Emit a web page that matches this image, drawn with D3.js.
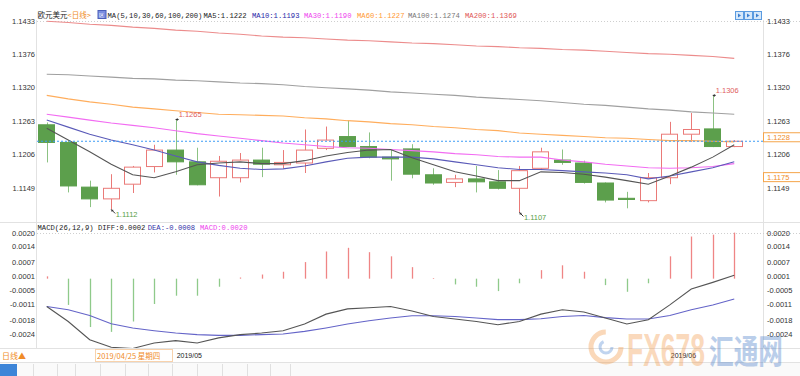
<!DOCTYPE html>
<html>
<head>
<meta charset="utf-8">
<script src="https://cdn.jsdelivr.net/npm/d3@7"></script>
<style>
  body { margin: 0; background: #fff; }
  svg { display: block; }
  text { font-family: "Liberation Sans", Arial, sans-serif; }
  .mono { font-family: "Liberation Mono", "DejaVu Sans Mono", monospace; font-size: 7.2px; }
  .cjk { font-family: "Noto Sans CJK SC", sans-serif; }
</style>
</head>
<body>
<svg id="chart" width="800" height="376"></svg>
<script>
// 交易日（2019/04/23 ~ 2019/06/06）
const dates = ["04/23","04/24","04/25","04/26","04/29","04/30","05/01","05/02","05/03","05/06","05/07",
  "05/08","05/09","05/10","05/13","05/14","05/15","05/16","05/17","05/20","05/21","05/22",
  "05/23","05/24","05/27","05/28","05/29","05/30","05/31","06/03","06/04","06/05","06/06"];

const open  = [1.1256,1.1226,1.1150,1.1130,1.1155,1.1185,1.1213,1.1193,1.1166,1.1166,1.1196,
  1.1188,1.1191,1.1216,1.1236,1.1219,1.1201,1.1215,1.1171,1.1158,1.1164,1.1159,
  1.1148,1.1182,1.1196,1.1191,1.1157,1.1131,1.1127,1.1166,1.1240,1.1249,1.1219];
const high  = [1.1260,1.1229,1.1161,1.1172,1.1186,1.1222,1.1265,1.1217,1.1203,1.1208,1.1217,
  1.1213,1.1248,1.1253,1.1263,1.1243,1.1214,1.1223,1.1182,1.1171,1.1186,1.1179,
  1.1186,1.1217,1.1214,1.1195,1.1158,1.1142,1.1174,1.1261,1.1276,1.1306,1.1230];
const low   = [1.1192,1.1141,1.1116,1.1112,1.1140,1.1175,1.1171,1.1153,1.1134,1.1158,1.1167,
  1.1182,1.1174,1.1213,1.1218,1.1199,1.1161,1.1165,1.1154,1.1150,1.1141,1.1146,
  1.1107,1.1179,1.1188,1.1156,1.1124,1.1114,1.1124,1.1155,1.1227,1.1218,1.1218];
const close = [1.1226,1.1152,1.1130,1.1148,1.1184,1.1213,1.1193,1.1154,1.1194,1.1196,1.1189,
  1.1192,1.1213,1.1230,1.1219,1.1201,1.1198,1.1172,1.1157,1.1164,1.1159,1.1148,
  1.1178,1.1210,1.1192,1.1158,1.1128,1.1129,1.1166,1.1240,1.1248,1.1219,1.1228];

// 均线
const ma5   = [1.1250,1.1230,1.1210,1.1189,1.1171,1.1166,1.1176,1.1188,1.1191,1.1193,1.1190,
  1.1190,1.1195,1.1203,1.1209,1.1213,1.1214,1.1200,1.1188,1.1176,1.1169,1.1161,
  1.1161,1.1176,1.1175,1.1172,1.1167,1.1161,1.1155,1.1169,1.1184,1.1201,1.1222];
const ma10  = [1.1264,1.1252,1.1240,1.1230,1.1222,1.1213,1.1203,1.1193,1.1187,1.1182,1.1180,
  1.1181,1.1186,1.1193,1.1199,1.1201,1.1201,1.1201,1.1198,1.1193,1.1188,1.1183,
  1.1180,1.1180,1.1178,1.1176,1.1174,1.1171,1.1164,1.1169,1.1176,1.1183,1.1193];
const ma30  = [1.1274,1.1269,1.1264,1.1259,1.1255,1.1251,1.1246,1.1241,1.1237,1.1233,1.1229,
  1.1225,1.1222,1.1219,1.1217,1.1216,1.1214,1.1212,1.1210,1.1207,1.1205,1.1202,
  1.1201,1.1201,1.1196,1.1193,1.1189,1.1186,1.1183,1.1182,1.1183,1.1185,1.1190];
const ma60  = [1.1306,1.1300,1.1295,1.1291,1.1286,1.1283,1.1280,1.1277,1.1274,1.1273,1.1272,
  1.1271,1.1268,1.1266,1.1263,1.1261,1.1258,1.1256,1.1253,1.1251,1.1248,1.1246,
  1.1242,1.1240,1.1238,1.1236,1.1234,1.1233,1.1231,1.1229,1.1229,1.1228,1.1227];
const ma100 = [1.1342,1.1341,1.1339,1.1337,1.1335,1.1334,1.1332,1.1331,1.1329,1.1327,1.1326,
  1.1324,1.1321,1.1319,1.1317,1.1315,1.1312,1.1310,1.1308,1.1306,1.1303,1.1301,
  1.1299,1.1297,1.1294,1.1291,1.1289,1.1286,1.1283,1.1281,1.1278,1.1276,1.1274];
const ma200 = [1.1432,1.1430,1.1427,1.1425,1.1422,1.1420,1.1417,1.1415,1.1412,1.1410,1.1407,
  1.1405,1.1404,1.1402,1.1400,1.1399,1.1397,1.1395,1.1394,1.1392,1.1390,1.1389,
  1.1387,1.1386,1.1384,1.1383,1.1381,1.1379,1.1377,1.1376,1.1374,1.1372,1.1369];

// MACD(26,12,9)
const diff = [-0.00121,-0.00186,-0.00265,-0.00298,-0.00303,-0.00279,-0.00269,-0.00279,-0.00257,-0.00243,-0.00236,
  -0.00226,-0.00197,-0.00154,-0.00131,-0.00126,-0.00121,-0.00140,-0.00164,-0.00175,-0.00186,-0.00200,
  -0.00186,-0.00154,-0.00135,-0.00145,-0.00171,-0.00197,-0.00178,-0.00114,-0.00045,-0.00016,0.00015];
const dea  = [-0.00121,-0.00135,-0.00160,-0.00196,-0.00214,-0.00226,-0.00236,-0.00243,-0.00246,-0.00246,-0.00243,
  -0.00240,-0.00229,-0.00214,-0.00197,-0.00183,-0.00171,-0.00161,-0.00161,-0.00164,-0.00171,-0.00178,
  -0.00178,-0.00174,-0.00164,-0.00160,-0.00169,-0.00175,-0.00175,-0.00160,-0.00135,-0.00114,-0.00088];
const macdBar = [0.0001,-0.00114,-0.0021,-0.00231,-0.00186,-0.0011,-0.00074,-0.00074,-0.00035,0.00005,0.00018,
  0.0003,0.00072,0.00118,0.00134,0.00115,0.00097,0.0005,0.00003,-0.00025,-0.00035,-0.00054,
  -0.0002,0.00037,0.00058,0.0003,-0.00028,-0.00057,-0.0002,0.00097,0.00183,0.00191,0.0020];

const priceTicks = ["1.1433","1.1376","1.1320","1.1263","1.1206","1.1149"];
const macdTicks = ["0.0020","0.0014","0.0007","0.0001","-0.0005","-0.0011","-0.0018","-0.0024"];
const monthLabels = [{i: 6, text: "2019/05"}, {i: 29, text: "2019/06"}];

const svg = d3.select("#chart");
const L = 37, R = 763;
const RED = "#ea7a78", GREEN = "#5c9f4c", ORANGE = "#f08c28";

const x = d3.scaleBand().domain(d3.range(dates.length)).range([36, 745])
  .paddingInner(0.2).paddingOuter(0.1);
const cx = i => x(i) + x.bandwidth() / 2;

const yMain = d3.scaleLinear().domain([1.10907, 1.1433]).range([222, 20.7]);
const yMacd = d3.scaleLinear().domain([-0.00301, 0.00246]).range([348, 222]);

// 边框和分隔线
const frame = svg.append("g");
[222.5, 348.5, 362.5].forEach(yy => {
  frame.append("line").attr("x1", 0).attr("x2", 800).attr("y1", yy).attr("y2", yy)
    .attr("stroke", "#e2e2e2");
});
[L - 0.5, R + 0.5].forEach(xx => {
  frame.append("line").attr("x1", xx).attr("x2", xx).attr("y1", 20).attr("y2", 348)
    .attr("stroke", "#e2e2e2");
});
[yMain(1.1433), yMacd(0.0020)].forEach(yy => {
  frame.append("line").attr("x1", L).attr("x2", 800).attr("y1", Math.round(yy) + 0.5)
    .attr("y2", Math.round(yy) + 0.5).attr("stroke", "#cfcfcf").attr("stroke-dasharray", "1,2");
});

// 坐标轴
function styleAxis(g) {
  g.select(".domain").remove();
  g.selectAll("text").attr("font-size", "7.5px").attr("fill", "#333")
    .attr("font-family", "Liberation Sans, Arial, sans-serif");
}
svg.append("g").attr("transform", `translate(${L},0)`)
  .call(d3.axisLeft(yMain).tickValues(priceTicks.map(Number)).tickSize(0).tickPadding(2)
    .tickFormat((d, i) => priceTicks[i])).call(styleAxis);
svg.append("g").attr("transform", `translate(${R},0)`)
  .call(d3.axisRight(yMain).tickValues(priceTicks.map(Number)).tickSize(0).tickPadding(4)
    .tickFormat((d, i) => priceTicks[i])).call(styleAxis);
svg.append("g").attr("transform", `translate(${L},0)`)
  .call(d3.axisLeft(yMacd).tickValues(macdTicks.map(Number)).tickSize(0).tickPadding(2)
    .tickFormat((d, i) => macdTicks[i])).call(styleAxis);
svg.append("g").attr("transform", `translate(${R},0)`)
  .call(d3.axisRight(yMacd).tickValues(macdTicks.map(Number)).tickSize(0).tickPadding(4)
    .tickFormat((d, i) => macdTicks[i])).call(styleAxis);

// K线
const kg = svg.append("g");
dates.forEach((d, i) => {
  const up = close[i] >= open[i];
  const col = up ? RED : GREEN;
  const xc = Math.round(cx(i)) + 0.5;
  kg.append("line").attr("x1", xc).attr("x2", xc)
    .attr("y1", yMain(high[i])).attr("y2", yMain(low[i]))
    .attr("stroke", up ? RED : "#8cc283").attr("stroke-width", 1);
  const top = yMain(Math.max(open[i], close[i]));
  const h = Math.max(1, Math.abs(yMain(open[i]) - yMain(close[i])));
  kg.append("rect").attr("x", Math.round(x(i)) + 0.5).attr("y", top)
    .attr("width", Math.round(x.bandwidth()) - 1).attr("height", h)
    .attr("fill", up ? "#fff" : GREEN).attr("stroke", col).attr("stroke-width", 1);
});

// 均线
const maList = [
  {v: ma200, c: "#ec8c8c"}, {v: ma100, c: "#a0a0a0"}, {v: ma60, c: "#ffad5c"},
  {v: ma30, c: "#f26cf2"}, {v: ma10, c: "#5a5ab8"}, {v: ma5, c: "#555"}
];
const lineMain = d3.line().x((d, i) => cx(i)).y(d => yMain(d));
maList.forEach(m => {
  svg.append("path").attr("d", lineMain(m.v)).attr("fill", "none")
    .attr("stroke", m.c).attr("stroke-width", 1.1);
});

// 现价虚线
const last = close[close.length - 1];
svg.append("line").attr("x1", L).attr("x2", R)
  .attr("y1", yMain(last)).attr("y2", yMain(last))
  .attr("stroke", "#3d9cf5").attr("stroke-dasharray", "2,2");

// 最高最低标注
function markHigh(i, col) {
  const xc = cx(i), yy = yMain(high[i]);
  svg.append("line").attr("x1", xc).attr("x2", xc + 3).attr("y1", yy).attr("y2", yy)
    .attr("stroke", "#333");
  svg.append("path").attr("d", `M${xc},${yy}l2,-1.5l0,3z`).attr("fill", "#333");
  svg.append("text").attr("x", xc + 3).attr("y", yy - 2).attr("font-size", "7.5px")
    .attr("fill", col).text(high[i].toFixed(4));
}
function markLow(i, col) {
  const xc = cx(i), yy = yMain(low[i]);
  svg.append("line").attr("x1", xc).attr("x2", xc + 4).attr("y1", yy).attr("y2", yy + 4)
    .attr("stroke", "#333");
  svg.append("path").attr("d", `M${xc},${yy}l0.5,2.5l2,-2z`).attr("fill", "#333");
  svg.append("text").attr("x", xc + 4.5).attr("y", yy + 8).attr("font-size", "7.5px")
    .attr("fill", col).text(low[i].toFixed(4));
}
markHigh(6, "#e06060");
markHigh(31, "#e06060");
markLow(3, "#58a048");
markLow(22, "#58a048");

// 右侧价格标签
function priceTag(v, txt) {
  const yy = yMain(v);
  svg.append("rect").attr("x", R + 0.5).attr("y", yy - 4.5).attr("width", 37).attr("height", 9)
    .attr("fill", "#fff").attr("stroke", "#f5a54a");
  svg.append("text").attr("x", R + 4).attr("y", yy + 2.7).attr("font-size", "7.5px")
    .attr("fill", ORANGE).text(txt);
}
priceTag(last + 0.00068, last.toFixed(4));
svg.select("g").raise;
priceTag(1.1175 - 0.0008, "1.1175");

// MACD 柱
const mg = svg.append("g");
macdBar.forEach((v, i) => {
  mg.append("line").attr("x1", Math.round(cx(i)) + 0.5).attr("x2", Math.round(cx(i)) + 0.5)
    .attr("y1", yMacd(0)).attr("y2", yMacd(v))
    .attr("stroke", v >= 0 ? "#ef8585" : "#8fca8a").attr("stroke-width", 1.3);
});
svg.append("defs").append("clipPath").attr("id", "macdClip")
  .append("rect").attr("x", L).attr("y", 223).attr("width", R - L).attr("height", 125);
const lineMacd = d3.line().x((d, i) => cx(i)).y(d => yMacd(d));
svg.append("path").attr("d", lineMacd(dea)).attr("fill", "none").attr("clip-path", "url(#macdClip)")
  .attr("stroke", "#6464c8").attr("stroke-width", 1.1);
svg.append("path").attr("d", lineMacd(diff)).attr("fill", "none").attr("clip-path", "url(#macdClip)")
  .attr("stroke", "#555").attr("stroke-width", 1.1);

// 图例
const lg = svg.append("g");
lg.append("text").attr("class", "cjk").attr("x", 37.5).attr("y", 18).attr("font-size", "7.5px")
  .attr("fill", "#222").text("欧元美元");
lg.append("text").attr("class", "cjk").attr("x", 67.5).attr("y", 18).attr("font-size", "7.5px")
  .attr("fill", ORANGE).text("<日线>");
lg.append("rect").attr("x", 98).attr("y", 10.5).attr("width", 8).attr("height", 8)
  .attr("fill", "#7b8ee0").attr("stroke", "#4c5fb8");
lg.append("text").attr("x", 99).attr("y", 17).attr("font-size", "5px").attr("fill", "#fff").text("区");
const legendItems = [
  {x: 107.5, t: "MA(5,10,30,60,100,200)", c: "#222"},
  {x: 203.5, t: "MA5:" + ma5[32].toFixed(4), c: "#222"},
  {x: 252, t: "MA10:" + ma10[32].toFixed(4), c: "#2828a8"},
  {x: 304, t: "MA30:" + ma30[32].toFixed(4), c: "#ee44ee"},
  {x: 357, t: "MA60:" + ma60[32].toFixed(4), c: "#ff9933"},
  {x: 408, t: "MA100:" + ma100[32].toFixed(4), c: "#777"},
  {x: 465, t: "MA200:" + ma200[32].toFixed(4), c: "#e05555"}
];
legendItems.forEach(d => {
  lg.append("text").attr("class", "mono").attr("x", d.x).attr("y", 18).attr("fill", d.c).text(d.t);
});
const macdLegend = [
  {x: 37.5, t: "MACD(26,12,9) DIFF:0.0002", c: "#222"},
  {x: 147.7, t: "DEA:-0.0008", c: "#3434a8"},
  {x: 200, t: "MACD:0.0020", c: "#ee44ee"}
];
macdLegend.forEach(d => {
  lg.append("text").attr("class", "mono").attr("x", d.x).attr("y", 229.5).attr("fill", d.c).text(d.t);
});

// 右上角按钮
[735, 744, 753].forEach(bx => {
  lg.append("rect").attr("x", bx + 0.5).attr("y", 11.5).attr("width", 8).attr("height", 8)
    .attr("fill", "#d6e8fa").attr("stroke", "#5b9be0");
  lg.append("path").attr("d", `M${bx + 3},${13.5}l3,2l-3,2z`).attr("fill", "#3c7fd0");
});

// 日期轴
monthLabels.forEach(m => {
  svg.append("text").attr("x", cx(m.i) + 1).attr("y", 358).attr("font-size", "7px")
    .attr("fill", "#222").text(m.text);
});
svg.append("rect").attr("x", 95.5).attr("y", 349.5).attr("width", 77).attr("height", 12)
  .attr("fill", "#fff").attr("stroke", "#f8d2ac");
svg.append("text").attr("class", "cjk").attr("x", 97).attr("y", 358.5).attr("font-size", "7.5px")
  .attr("fill", ORANGE).text("2019/04/25 星期四");
svg.append("text").attr("class", "cjk").attr("x", 2).attr("y", 359).attr("font-size", "8px")
  .attr("fill", ORANGE).text("日线▲");

// 底部标签栏
svg.append("rect").attr("x", 0).attr("y", 363).attr("width", 800).attr("height", 13).attr("fill", "#fafafa");
svg.append("rect").attr("x", 0).attr("y", 364).attr("width", 17).attr("height", 12).attr("fill", "#3d85d8");
[33, 57, 75, 100, 125, 148, 172, 197, 222, 247, 270, 290].forEach(tx => {
  svg.append("line").attr("x1", tx + 0.5).attr("x2", tx + 0.5).attr("y1", 364).attr("y2", 376)
    .attr("stroke", "#e0e0e0");
});

// 水印
const wm = svg.append("g").attr("opacity", 0.38);
wm.append("circle").attr("cx", 606).attr("cy", 347).attr("r", 15).attr("fill", "none")
  .attr("stroke", "#f29a4a").attr("stroke-width", 5).attr("stroke-dasharray", "70,25");
wm.append("circle").attr("cx", 606).attr("cy", 347).attr("r", 6).attr("fill", "none")
  .attr("stroke", "#5b8fd6").attr("stroke-width", 3).attr("stroke-dasharray", "25,13");
wm.append("text").attr("x", 627).attr("y", 366).attr("font-size", "46px").attr("font-weight", "bold")
  .attr("textLength", 78).attr("lengthAdjust", "spacingAndGlyphs").attr("fill", "#f39c50").text("FX678");
wm.append("text").attr("class", "cjk").attr("x", 709).attr("y", 364).attr("font-size", "34px")
  .attr("font-weight", "bold").attr("textLength", 74).attr("lengthAdjust", "spacingAndGlyphs")
  .attr("fill", "#4d7fc9").text("汇通网");
</script>
</body>
</html>
